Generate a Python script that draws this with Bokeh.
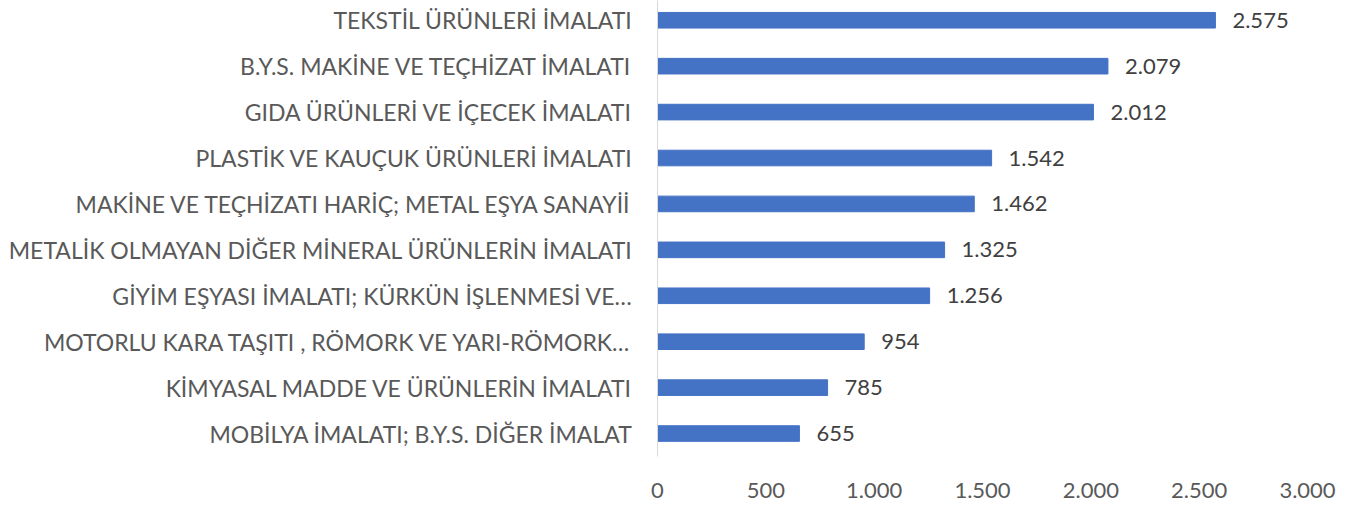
from bokeh.plotting import figure
from bokeh.models import ColumnDataSource, FixedTicker, Range1d
from bokeh.core.properties import value
from bokeh.embed import file_html
from bokeh.resources import INLINE

categories = [
    "TEKSTİL ÜRÜNLERİ İMALATI",
    "B.Y.S. MAKİNE VE TEÇHİZAT İMALATI",
    "GIDA ÜRÜNLERİ VE İÇECEK İMALATI",
    "PLASTİK VE KAUÇUK ÜRÜNLERİ İMALATI",
    "MAKİNE VE TEÇHİZATI HARİÇ; METAL EŞYA SANAYİİ",
    "METALİK OLMAYAN DİĞER MİNERAL ÜRÜNLERİN İMALATI",
    "GİYİM EŞYASI İMALATI; KÜRKÜN İŞLENMESİ VE…",
    "MOTORLU KARA TAŞITI , RÖMORK VE YARI-RÖMORK…",
    "KİMYASAL MADDE VE ÜRÜNLERİN İMALATI",
    "MOBİLYA İMALATI; B.Y.S. DİĞER İMALAT",
]
values = [2575, 2079, 2012, 1542, 1462, 1325, 1256, 954, 785, 655]
x_ticks = [0, 500, 1000, 1500, 2000, 2500, 3000]

def fmt(v):
    return f"{v:,}".replace(",", ".")

n = len(categories)
ypos = [n - 1 - i for i in range(n)]
src = ColumnDataSource(dict(y=ypos, v=values, lab=[fmt(v) for v in values]))

FONT = "Lato"
p = figure(width=1360, height=506, output_backend="svg", toolbar_location=None,
           x_range=Range1d(0, 3000), y_range=Range1d(-0.5, 9.43))
p.min_border_left = 657
p.min_border_right = 53
p.min_border_top = 0
p.min_border_bottom = 50
p.outline_line_color = None
p.xgrid.visible = False
p.ygrid.visible = False

p.hbar(y="y", right="v", left=0, height=0.34, source=src, color="#4472C4")
p.text(x="v", y="y", text="lab", source=src, x_offset=17, text_baseline="middle",
       text_align="left", text_font=value(FONT), text_font_size="22px", text_color="#404040")

ya = p.yaxis[0]
ya.ticker = FixedTicker(ticks=ypos)
ya.major_label_overrides = {y: c for y, c in zip(ypos, categories)}
ya.major_tick_line_color = None
ya.minor_tick_line_color = None
ya.axis_line_color = "#d9d9d9"
ya.axis_line_width = 1
ya.major_label_standoff = 19
ya.major_label_text_font = FONT
ya.major_label_text_font_size = "23px"
ya.major_label_text_color = "#595959"

xa = p.xaxis[0]
xa.ticker = FixedTicker(ticks=x_ticks)
xa.major_label_overrides = {t: fmt(t) for t in x_ticks}
xa.axis_line_color = None
xa.major_tick_line_color = None
xa.minor_tick_line_color = None
xa.major_label_standoff = 20
xa.major_label_text_font = FONT
xa.major_label_text_font_size = "22px"
xa.major_label_text_color = "#595959"

open("out.html", "w").write(file_html(p, INLINE))
